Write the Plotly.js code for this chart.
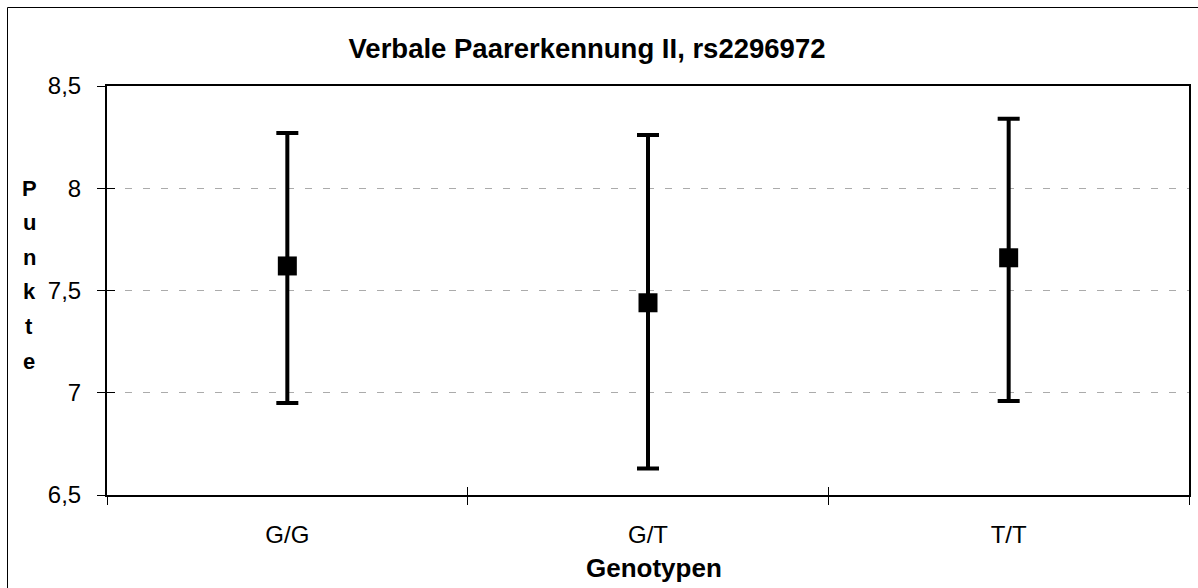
<!DOCTYPE html>
<html>
<head>
<meta charset="utf-8">
<script src="https://cdn.plot.ly/plotly-3.0.1.min.js"></script>
<style>
  html, body { margin: 0; padding: 0; background: #fff; overflow: hidden; }
  #chart { width: 1198px; height: 588px; }
</style>
</head>
<body>
<div id="chart"></div>
<script>
// ---- data ----
const categories = ['G/G', 'G/T', 'T/T'];
const means = [7.62, 7.44, 7.66];
const errUpper = [0.65, 0.82, 0.68];
const errLower = [0.67, 0.81, 0.70];
const yTickVals = [6.5, 7, 7.5, 8, 8.5];
const yTickText = ['6,5', '7', '7,5', '8', '8,5'];
const chartTitle = 'Verbale Paarerkennung II, rs2296972';
const xTitle = 'Genotypen';
const yTitle = 'Punkte';

const FONT = 'Liberation Sans, Arial, sans-serif';

const W = 1198, H = 588;
const mL = 107, mR = 9, mT = 86, mB = 93;
const plotW = W - mL - mR, plotH = H - mT - mB;
const px2paperX = px => (px - mL) / plotW;
const px2paperY = py => 1 - (py - mT) / plotH;

const traces = [
  {
    type: 'scatter',
    mode: 'markers',
    x: categories,
    y: means,
    marker: { symbol: 'square', size: 19, color: '#000' },
    error_y: {
      type: 'data',
      symmetric: false,
      array: errUpper,
      arrayminus: errLower,
      color: '#000',
      thickness: 4,
      width: 11
    },
    hoverinfo: 'x+y',
    showlegend: false
  },
  {
    // helper trace for the inner half of the crossing tick marks
    type: 'scatter',
    mode: 'markers',
    x: categories,
    y: means,
    xaxis: 'x2',
    yaxis: 'y2',
    marker: { size: 1, opacity: 0 },
    hoverinfo: 'skip',
    showlegend: false
  }
];

const annotations = [];
const letters = yTitle.split('');
letters.forEach((ch, i) => {
  annotations.push({
    text: '<b>' + ch + '</b>',
    xref: 'paper', yref: 'paper',
    x: px2paperX(29), y: px2paperY(188 + i * 34.6),
    xanchor: 'center', yanchor: 'middle',
    showarrow: false,
    font: { family: FONT, size: 22, color: '#000' }
  });
});

// x-axis title placed as an annotation (centred where the reference has it)
annotations.push({
  text: '<b>' + xTitle + '</b>',
  xref: 'paper', yref: 'paper',
  x: px2paperX(654), y: px2paperY(568),
  xanchor: 'center', yanchor: 'middle',
  showarrow: false,
  font: { family: FONT, size: 26, color: '#000' }
});

const layout = {
  width: W, height: H,
  margin: { l: mL, r: mR, t: mT, b: mB, pad: 0 },
  paper_bgcolor: '#fff',
  plot_bgcolor: '#fff',
  font: { family: FONT, color: '#000' },
  title: {
    text: '<b>' + chartTitle + '</b>',
    font: { family: FONT, size: 27.5, color: '#000' },
    xref: 'container', yref: 'container',
    x: 587 / W, y: 1 - 48 / H,
    xanchor: 'center', yanchor: 'middle'
  },
  xaxis: {
    type: 'category',
    range: [-0.5, 2.5],
    tickson: 'boundaries',
    ticks: 'outside', ticklen: 8, tickwidth: 1, tickcolor: '#000',
    ticklabelstandoff: 17,
    showline: true, linewidth: 2, linecolor: '#000', mirror: true,
    showgrid: false, zeroline: false,
    tickfont: { family: FONT, size: 24, color: '#000' },
    fixedrange: true
  },
  xaxis2: {
    type: 'category',
    overlaying: 'x',
    range: [-0.5, 2.5],
    tickson: 'boundaries',
    ticks: 'inside', ticklen: 8, tickwidth: 1, tickcolor: '#000',
    showticklabels: false, showline: false, showgrid: false, zeroline: false,
    fixedrange: true
  },
  yaxis: {
    range: [6.5, 8.5],
    tickvals: yTickVals,
    ticktext: yTickText,
    ticks: 'outside', ticklen: 8, tickwidth: 1, tickcolor: '#000',
    ticklabelstandoff: 11,
    showline: true, linewidth: 2, linecolor: '#000', mirror: true,
    showgrid: true, gridcolor: '#ababab', gridwidth: 1, griddash: '7px,11px',
    zeroline: false,
    tickfont: { family: FONT, size: 24, color: '#000' },
    fixedrange: true
  },
  yaxis2: {
    overlaying: 'y',
    range: [6.5, 8.5],
    tickvals: yTickVals,
    ticks: 'inside', ticklen: 8, tickwidth: 1, tickcolor: '#000',
    showticklabels: false, showline: false, showgrid: false, zeroline: false,
    fixedrange: true
  },
  shapes: [
    {
      type: 'rect', xref: 'paper', yref: 'paper',
      x0: px2paperX(7.5), x1: px2paperX(1210),
      y0: px2paperY(600), y1: px2paperY(7.5),
      line: { color: '#000', width: 1 },
      fillcolor: 'rgba(0,0,0,0)',
      layer: 'below'
    }
  ],
  annotations: annotations
};

Plotly.newPlot('chart', traces, layout, { displayModeBar: false, staticPlot: true });
</script>
</body>
</html>
